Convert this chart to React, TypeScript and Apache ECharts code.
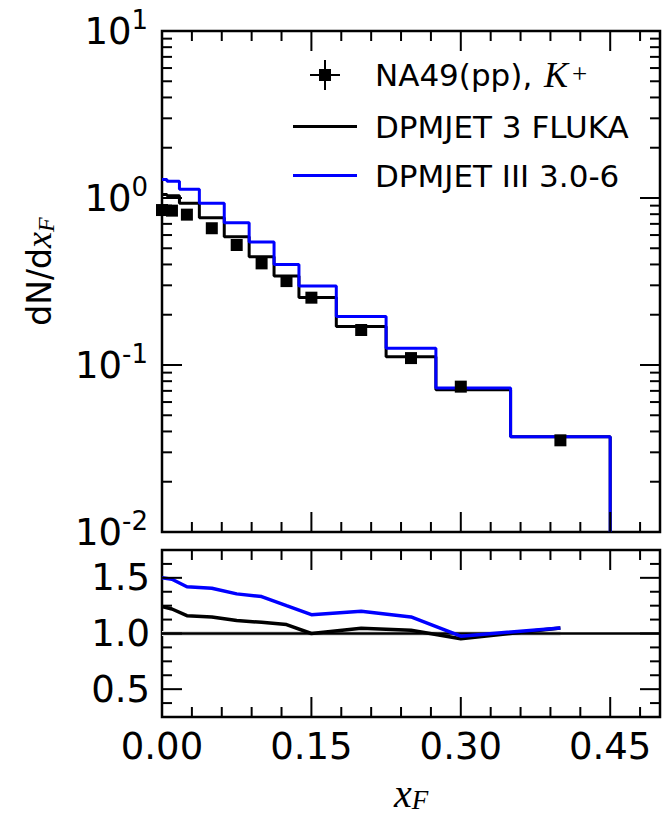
import React, { useEffect, useRef } from "react";
import * as echarts from "echarts";

// ---- data ----
const xData = [0, 0.01, 0.025, 0.05, 0.075, 0.1, 0.125, 0.15, 0.2, 0.25, 0.3, 0.4];
const na49 = [0.847, 0.84, 0.795, 0.659, 0.523, 0.406, 0.318, 0.253, 0.162, 0.11, 0.0742, 0.0354];
const binEdges = [0, 0.005, 0.0175, 0.0375, 0.0625, 0.0875, 0.1125, 0.1375, 0.175, 0.225, 0.275, 0.35, 0.45];
const fluka = [1.05, 1.03, 0.93, 0.762, 0.586, 0.445, 0.341, 0.254, 0.17, 0.112, 0.071, 0.0372];
const dpmjet = [1.29, 1.26, 1.13, 0.93, 0.712, 0.545, 0.4, 0.297, 0.195, 0.126, 0.0728, 0.0372];
const ratioFluka = [1.243, 1.22, 1.16, 1.149, 1.116, 1.1, 1.08, 1.0, 1.047, 1.03, 0.953, 1.05];
const ratioDpmjet = [1.501, 1.487, 1.42, 1.407, 1.356, 1.332, 1.25, 1.169, 1.199, 1.149, 0.976, 1.05];

const xMajor = [0, 0.15, 0.3, 0.45];
const xMinor = [0.03, 0.06, 0.09, 0.12, 0.18, 0.21, 0.24, 0.27, 0.33, 0.36, 0.39, 0.42, 0.48];
const yMajorTop = [0.01, 0.1, 1, 10];
const yMinorTop = [0.02, 0.03, 0.04, 0.05, 0.06, 0.07, 0.08, 0.09, 0.2, 0.3, 0.4, 0.5, 0.6, 0.7, 0.8, 0.9, 2, 3, 4, 5, 6, 7, 8, 9];
const yMajorBot = [0.5, 1.0, 1.5];
const yMinorBot = [0.375, 0.625, 0.75, 0.875, 1.125, 1.25, 1.375, 1.625];

const NAME_NA49 = "NA49(pp), K+";
const NAME_FLUKA = "DPMJET 3 FLUKA";
const NAME_DPM = "DPMJET III 3.0-6";

const FONT = "DejaVu Sans";
const MATH = "Liberation Serif";
const BLUE = "#0000ff";

function stepData(edges: number[], vals: number[], floor: number) {
  const d: number[][] = vals.map((v, i) => [edges[i], v]);
  d.push([edges[edges.length - 1], floor]);
  return d;
}

function tickSeries(kind: "x" | "y", values: number[], len: number, gi: number, ref: number) {
  return {
    type: "custom",
    xAxisIndex: gi,
    yAxisIndex: gi,
    silent: true,
    z: 6,
    clip: false,
    data: values.map((v) => (kind === "x" ? [v, ref] : [ref, v])),
    renderItem: (params: any, api: any) => {
      const cs = params.coordSys;
      const p = api.coord([api.value(0), api.value(1)]);
      const st = { stroke: "#000", lineWidth: 2 };
      if (kind === "x") {
        return {
          type: "group",
          children: [
            { type: "line", shape: { x1: p[0], y1: cs.y + cs.height, x2: p[0], y2: cs.y + cs.height - len }, style: st },
            { type: "line", shape: { x1: p[0], y1: cs.y, x2: p[0], y2: cs.y + len }, style: st },
          ],
        };
      }
      return {
        type: "group",
        children: [
          { type: "line", shape: { x1: cs.x, y1: p[1], x2: cs.x + len, y2: p[1] }, style: st },
          { type: "line", shape: { x1: cs.x + cs.width - len, y1: p[1], x2: cs.x + cs.width, y2: p[1] }, style: st },
        ],
      };
    },
  };
}

const ERR_ICON =
  "path://M0,15L0,15.02L0.02,15Z M64,15L64,15.02L63.98,15Z M17,14L47,14L47,16L17,16Z M31,0L33,0L33,30L31,30Z M26,9L38,9L38,21L26,21Z";
const LINE_ICON =
  "path://M0,0L0.02,0L0,0.02Z M0,30L0.02,30L0,29.98Z M0,13.5L64,13.5L64,16.5L0,16.5Z";

export default function App() {
  const ref = useRef<HTMLDivElement>(null);
  useEffect(() => {
    if (!ref.current) return;
    const chart = echarts.init(ref.current, null, { renderer: "svg" });
    const gridStyle = { show: true, borderColor: "#000", borderWidth: 2.5, backgroundColor: "transparent" };
    const option: any = {
      animation: false,
      backgroundColor: "#fff",
      grid: [
        { left: 162, top: 31, width: 498, height: 501, ...gridStyle },
        { left: 162, top: 550, width: 498, height: 167, ...gridStyle },
      ],
      legend: {
        orient: "vertical",
        left: 288,
        top: 52,
        itemWidth: 64,
        itemHeight: 30,
        itemGap: 18,
        selectedMode: false,
        data: [
          { name: NAME_NA49, icon: ERR_ICON, itemStyle: { color: "#000", opacity: 1 } },
          { name: NAME_FLUKA, icon: LINE_ICON, itemStyle: { color: "#000" } },
          { name: NAME_DPM, icon: LINE_ICON, itemStyle: { color: BLUE } },
        ],
        formatter: (name: string) =>
          name === NAME_NA49 ? "{a|NA49(pp), }{k|K}{s|+}" : `{a|${name}}`,
        textStyle: {
          color: "#000",
          fontFamily: FONT,
          fontSize: 31,
          rich: {
            a: { fontFamily: FONT, fontSize: 31, lineHeight: 30, color: "#000", padding: [0, 0, 0, 13] },
            k: { fontFamily: MATH, fontStyle: "italic", fontSize: 36, lineHeight: 30, color: "#000", padding: [0, 4, 0, 2] },
            s: { fontFamily: MATH, fontSize: 27, lineHeight: 6, verticalAlign: "top", color: "#000" },
          },
        },
      },
      xAxis: [
        {
          gridIndex: 0,
          type: "value",
          min: 0,
          max: 0.5,
          interval: 0.15,
          axisLine: { show: false },
          axisTick: { show: false },
          splitLine: { show: false },
          axisLabel: { show: false },
        },
        {
          gridIndex: 1,
          type: "value",
          min: 0,
          max: 0.5,
          interval: 0.15,
          axisLine: { show: false },
          axisTick: { show: false },
          splitLine: { show: false },
          axisLabel: {
            margin: 11,
            color: "#000",
            fontFamily: FONT,
            fontSize: 37,
            formatter: (v: number) => (Math.abs(v / 0.15 - Math.round(v / 0.15)) < 1e-6 ? v.toFixed(2) : ""),
          },
          name: "{x|x}{f|F}",
          nameLocation: "middle",
          nameGap: 56,
          nameTextStyle: {
            rich: {
              x: { fontFamily: MATH, fontStyle: "italic", fontSize: 40, lineHeight: 40, color: "#000" },
              f: { fontFamily: MATH, fontStyle: "italic", fontSize: 27, lineHeight: 24, verticalAlign: "bottom", color: "#000" },
            },
          },
        },
      ],
      yAxis: [
        {
          gridIndex: 0,
          type: "log",
          logBase: 10,
          min: 0.01,
          max: 10,
          axisLine: { show: false },
          axisTick: { show: false },
          splitLine: { show: false },
          axisLabel: {
            margin: 14,
            formatter: (v: number) => `{b|10}{s|${Math.round(Math.log10(v))}}`,
            rich: {
              b: { fontFamily: FONT, fontSize: 37, lineHeight: 48, color: "#000" },
              s: { fontFamily: FONT, fontSize: 26, lineHeight: 22, verticalAlign: "top", color: "#000" },
            },
          },
          name: "{a|dN/d}{x|x}{f|F}",
          nameLocation: "middle",
          nameRotate: 90,
          nameGap: 104,
          nameTextStyle: {
            padding: [0, 0, 0, 20],
            rich: {
              a: { fontFamily: FONT, fontSize: 33, lineHeight: 38, color: "#000" },
              x: { fontFamily: MATH, fontStyle: "italic", fontSize: 36, lineHeight: 38, color: "#000" },
              f: { fontFamily: MATH, fontStyle: "italic", fontSize: 24, lineHeight: 22, verticalAlign: "bottom", color: "#000" },
            },
          },
        },
        {
          gridIndex: 1,
          type: "value",
          min: 0.25,
          max: 1.75,
          interval: 0.25,
          axisLine: { show: false },
          axisTick: { show: false },
          splitLine: { show: false },
          axisLabel: {
            margin: 12,
            color: "#000",
            fontFamily: FONT,
            fontSize: 37,
            formatter: (v: number) =>
              v > 0.4 && v < 1.6 && Math.abs(v * 2 - Math.round(v * 2)) < 1e-6 ? v.toFixed(1) : "",
          },
        },
      ],
      series: [
        {
          name: NAME_FLUKA,
          type: "line",
          xAxisIndex: 0,
          yAxisIndex: 0,
          step: "end",
          symbol: "none",
          data: stepData(binEdges, fluka, 0.01),
          lineStyle: { color: "#000", width: 3 },
          itemStyle: { color: "#000" },
          z: 2,
        },
        {
          name: NAME_DPM,
          type: "line",
          xAxisIndex: 0,
          yAxisIndex: 0,
          step: "end",
          symbol: "none",
          data: stepData(binEdges, dpmjet, 0.01),
          lineStyle: { color: BLUE, width: 3 },
          itemStyle: { color: BLUE },
          z: 3,
        },
        {
          name: NAME_NA49,
          type: "scatter",
          xAxisIndex: 0,
          yAxisIndex: 0,
          symbol: "rect",
          symbolSize: 12,
          data: xData.map((x, i) => [x, na49[i]]),
          itemStyle: { color: "#000", opacity: 1 },
          z: 4,
        },
        {
          name: "NA49 uncertainty",
          type: "line",
          xAxisIndex: 1,
          yAxisIndex: 1,
          symbol: "none",
          data: [
            [xData[0], 1],
            [xData[xData.length - 1], 1],
          ],
          lineStyle: { color: "#e2e2e2", width: 5 },
          z: 1,
        },
        {
          name: "unity",
          type: "line",
          xAxisIndex: 1,
          yAxisIndex: 1,
          symbol: "none",
          data: [
            [0, 1],
            [0.5, 1],
          ],
          lineStyle: { color: "#000", width: 2.5 },
          z: 2,
        },
        {
          name: "ratio FLUKA",
          type: "line",
          xAxisIndex: 1,
          yAxisIndex: 1,
          symbol: "none",
          data: xData.map((x, i) => [x, ratioFluka[i]]),
          lineStyle: { color: "#000", width: 3.5 },
          z: 3,
        },
        {
          name: "ratio DPMJET",
          type: "line",
          xAxisIndex: 1,
          yAxisIndex: 1,
          symbol: "none",
          data: xData.map((x, i) => [x, ratioDpmjet[i]]),
          lineStyle: { color: BLUE, width: 3.5 },
          z: 4,
        },
        tickSeries("x", xMajor, 20, 0, 1),
        tickSeries("x", xMinor, 10, 0, 1),
        tickSeries("y", yMajorTop, 20, 0, 0.25),
        tickSeries("y", yMinorTop, 10, 0, 0.25),
        tickSeries("x", xMajor, 20, 1, 1),
        tickSeries("x", xMinor, 10, 1, 1),
        tickSeries("y", yMajorBot, 20, 1, 0.25),
        tickSeries("y", yMinorBot, 10, 1, 0.25),
      ],
    };
    chart.setOption(option);
    return () => chart.dispose();
  }, []);
  return (
    <div
      ref={ref}
      style={{ position: "absolute", left: 0, top: 0, width: 665, height: 817, background: "#fff" }}
    />
  );
}
